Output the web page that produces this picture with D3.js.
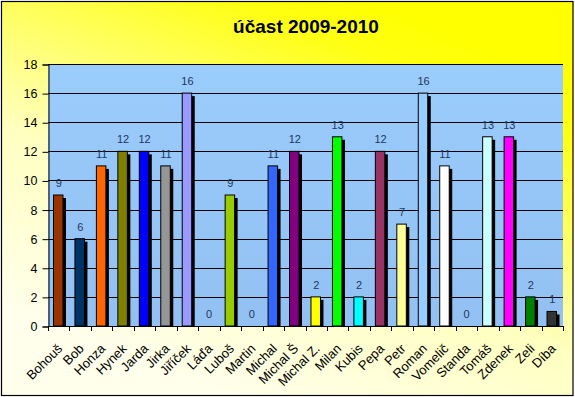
<!DOCTYPE html>
<html>
<head>
<meta charset="utf-8">
<script src="https://cdn.jsdelivr.net/npm/d3@7"></script>
<style>
  body { margin: 0; background: #fff; }
  svg { display: block; font-family: Arial, "Liberation Sans", sans-serif; }
</style>
</head>
<body>
<div id="chart"></div>
<script>
// data
var names = ['Bohouš','Bob','Honza','Hynek','Jarda','Jirka','Jiříček','Láďa','Luboš','Martin',
             'Michal','Michal Š','Michal Z.','Milan','Kubis','Pepa','Petr','Roman','Vomelič',
             'Standa','Tomáš','Zdenek','Zeli','Díba'];
var values = [9,6,11,12,12,11,16,0,9,0,11,12,2,13,2,12,7,16,11,0,13,13,2,1];
var colors = ['#993300','#003366','#FF6600','#808000','#0000FF','#969696','#9999FF','#99CCFF','#99CC00','#99CCFF',
              '#3366FF','#800080','#FFFF00','#00FF00','#00FFFF','#993366','#FFFF99','#99CCFF','#FFFFFF',
              '#99CCFF','#CCFFFF','#FF00FF','#008000','#333333'];
var yTicks = [0,2,4,6,8,10,12,14,16,18];
var title = 'účast 2009-2010';

var w = 575, h = 397;
var plot = {left: 48, right: 563, top: 64, bottom: 326};

var svg = d3.select('div#chart').append('svg')
            .attr('width', w)
            .attr('height', h);

var defs = svg.append('defs');
var bg = defs.append('linearGradient')
             .attr('id','bgGrad')
             .attr('gradientUnits','userSpaceOnUse')
             .attr('x1',380).attr('y1',0)
             .attr('x2',220).attr('y2',397);
bg.append('stop').attr('offset',0).attr('stop-color','#FFFF00');
bg.append('stop').attr('offset',0.12).attr('stop-color','#FFFF10');
bg.append('stop').attr('offset',0.6).attr('stop-color','#FFFFC0');
bg.append('stop').attr('offset',1).attr('stop-color','#FFFFEC');

var pg = defs.append('linearGradient')
             .attr('id','plotGrad')
             .attr('x1',0).attr('y1',0).attr('x2',0).attr('y2',1);
pg.append('stop').attr('offset',0).attr('stop-color','#9ACCFC');
pg.append('stop').attr('offset',1).attr('stop-color','#92C0F2');

//background + border
svg.append('rect')
   .attr('x',1.5).attr('y',1.5)
   .attr('width',571.5).attr('height',394)
   .attr('fill','url(#bgGrad)')
   .attr('stroke','#000')
   .attr('stroke-width',1.2);

//title
svg.append('text')
   .attr('x',306).attr('y',33)
   .attr('text-anchor','middle')
   .attr('font-size',19)
   .attr('font-weight','bold')
   .attr('fill','#000')
   .text(title);

//scales
var x = d3.scaleBand().domain(names).range([plot.left, plot.right]);
var y = d3.scaleLinear().domain([0,18]).range([plot.bottom, plot.top]);

//plot area
svg.append('rect')
   .attr('x',plot.left).attr('y',plot.top)
   .attr('width',plot.right-plot.left).attr('height',plot.bottom-plot.top)
   .attr('fill','url(#plotGrad)');

//gridlines
svg.append('g').selectAll('line').data(yTicks.filter(function(d){return d>0;}))
   .enter().append('line')
   .attr('x1',plot.left).attr('x2',plot.right)
   .attr('y1',function(d){return Math.round(y(d))+0.5;})
   .attr('y2',function(d){return Math.round(y(d))+0.5;})
   .attr('stroke','#000')
   .attr('stroke-width',1);

//y axis
var yAxis = svg.append('g')
   .attr('transform','translate('+(plot.left+0.5)+',0.5)')
   .call(d3.axisLeft(y).tickValues(yTicks).tickSize(6).tickPadding(5));
yAxis.select('.domain').attr('stroke','#000');
yAxis.selectAll('.tick line').attr('stroke','#000');
yAxis.selectAll('text').attr('font-size',12.5).attr('fill','#000')
     .attr('font-family','Arial, "Liberation Sans", sans-serif');

//x axis (ticks at category boundaries)
var xg = svg.append('g');
xg.append('line')
  .attr('x1',plot.left).attr('x2',plot.right)
  .attr('y1',plot.bottom+0.5).attr('y2',plot.bottom+0.5)
  .attr('stroke','#000');
xg.selectAll('line.tk').data(names.concat(['_end']))
  .enter().append('line')
  .attr('class','tk')
  .attr('x1',function(d,i){return Math.round(plot.left + i*x.step())+0.5;})
  .attr('x2',function(d,i){return Math.round(plot.left + i*x.step())+0.5;})
  .attr('y1',plot.bottom).attr('y2',plot.bottom+5)
  .attr('stroke','#000');
xg.selectAll('text').data(names)
  .enter().append('text')
  .attr('transform',function(d){
      return 'translate('+(x(d)+x.bandwidth()/2-2)+','+(plot.bottom+17)+') rotate(-45)';
  })
  .attr('text-anchor','end')
  .attr('dy','0.7em')
  .attr('font-size',13)
  .attr('fill','#000')
  .text(function(d){return d;});

//bars
var barW = 9.5;
var bars = svg.append('g').selectAll('g').data(values)
   .enter().append('g')
   .attr('transform',function(d,i){return 'translate('+(x(names[i])+x.bandwidth()/2-barW/2-0.5)+',0)';});

//shadow
bars.filter(function(d){return d>0;})
    .append('rect')
    .attr('x',3).attr('y',function(d){return y(d)+3;})
    .attr('width',barW).attr('height',function(d){return Math.max(0,plot.bottom-y(d)-3);})
    .attr('fill','#000');

bars.each(function(d,i){
    if (d > 0) {
        d3.select(this).append('rect')
          .attr('x',0).attr('y',y(d))
          .attr('width',barW).attr('height',plot.bottom-y(d))
          .attr('fill',colors[i])
          .attr('stroke','#000')
          .attr('stroke-width',1);
    }
});

//value labels
bars.append('text')
    .attr('x',barW/2+0.5)
    .attr('y',function(d){return y(d)-8;})
    .attr('text-anchor','middle')
    .attr('font-size',11)
    .attr('fill','#23355f')
    .text(function(d){return d;});
</script>
</body>
</html>
